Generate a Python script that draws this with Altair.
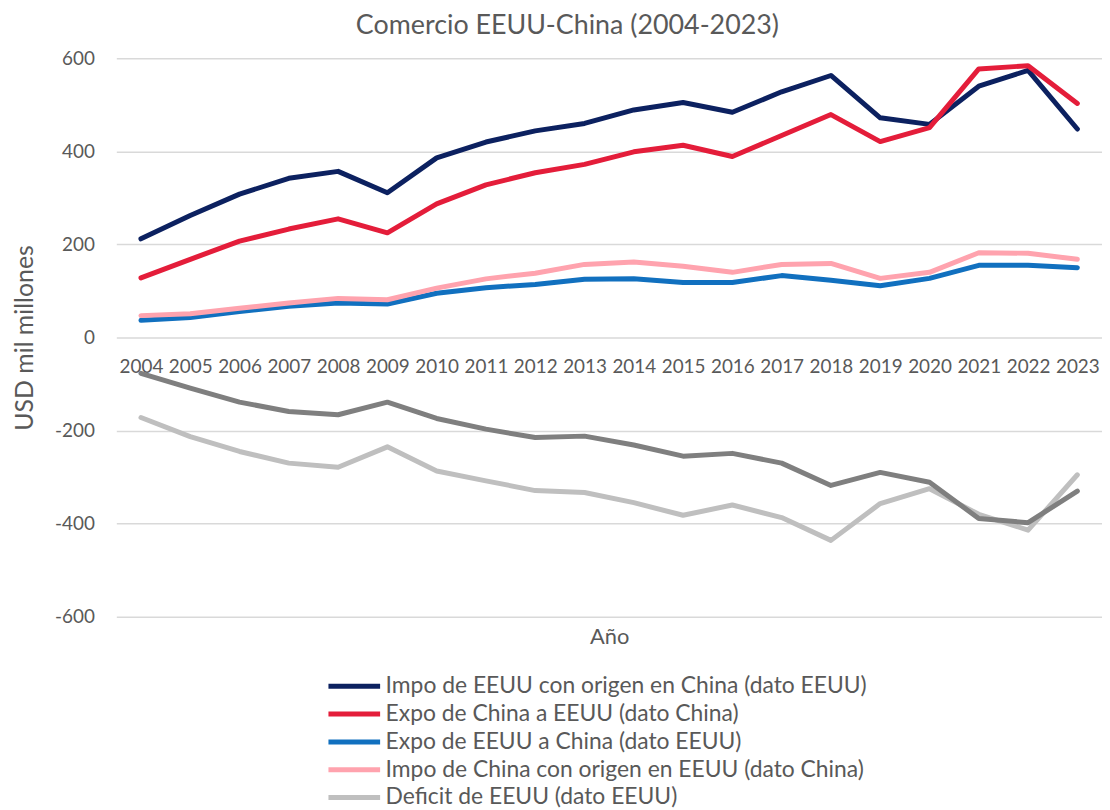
import altair as alt
import pandas as pd

years = [str(y) for y in range(2004, 2024)]

impo_eeuu_dato_eeuu = [212, 262, 308, 342, 357, 311, 386, 420, 444, 460,
                       489, 505, 484, 528, 563, 472, 458, 540, 574, 448]
expo_china_dato_china = [128, 168, 207, 233, 255, 225, 287, 328, 354, 372,
                         399, 413, 389, 434, 479, 421, 451, 577, 584, 503]
expo_eeuu_dato_eeuu = [37, 43, 56, 67, 74, 72, 95, 107, 114, 125,
                       126, 118, 118, 133, 123, 111, 127, 155, 155, 150]
impo_china_dato_china = [47, 51, 63, 74, 84, 81, 106, 126, 138, 157,
                         162, 153, 140, 157, 159, 127, 140, 182, 181, 168]
deficit_dato_eeuu = [-172, -213, -245, -270, -279, -235, -287, -308, -329, -333,
                     -355, -382, -360, -387, -436, -357, -325, -380, -414, -295]
deficit_dato_china = [-77, -109, -139, -159, -166, -139, -174, -197, -215, -212,
                      -231, -255, -249, -270, -318, -290, -311, -389, -398, -330]

series_names = [
    "Impo de EEUU con origen en China (dato EEUU)",
    "Expo de China a EEUU (dato China)",
    "Expo de EEUU a China (dato EEUU)",
    "Impo de China con origen en EEUU (dato China)",
    "Deficit de EEUU (dato EEUU)",
    "Deficit de EEUU (dato China)",
]
series_values = [
    impo_eeuu_dato_eeuu,
    expo_china_dato_china,
    expo_eeuu_dato_eeuu,
    impo_china_dato_china,
    deficit_dato_eeuu,
    deficit_dato_china,
]
colors = ["#0c2160", "#e41d3a", "#1170bf", "#ffa3ae", "#bfbfbf", "#7f7f7f"]
y_ticks = [-600, -400, -200, 0, 200, 400, 600]

rows = []
for idx, (name, vals) in enumerate(zip(series_names, series_values)):
    for yr, v in zip(years, vals):
        rows.append({"Año": yr, "serie": name, "valor": v, "orden": idx})
df = pd.DataFrame(rows)

FONT = "Lato"
TXT = "#595959"

chart = alt.Chart(df).mark_line(
    strokeWidth=5, strokeCap="round", strokeJoin="round"
).encode(
    x=alt.X(
        "Año:O",
        scale=alt.Scale(type="point", padding=0.5),
        axis=alt.Axis(
            title="Año", offset=-281, domain=False, ticks=False, tickSize=0,
            labelAngle=0, labelPadding=20, labelBaseline="top",
            labelFontSize=19, labelColor=TXT, labelFont=FONT,
            titleFontSize=22, titleColor=TXT, titleFont=FONT, titleFontWeight="normal",
            titleY=301, titleBaseline="middle", grid=False,
        ),
    ),
    y=alt.Y(
        "valor:Q",
        scale=alt.Scale(domain=[-600, 600], nice=False, zero=False),
        axis=alt.Axis(
            title="USD mil millones", values=y_ticks, labelExpr="'' + datum.value",
            domain=False, ticks=False, tickSize=0, labelPadding=22,
            labelFontSize=19, labelColor=TXT, labelFont=FONT,
            titleFontSize=25, titleColor=TXT, titleFont=FONT, titleFontWeight="normal",
            titleX=-92, titleY=281, titleAngle=270, titleAlign="center",
            titleBaseline="middle",
            grid=True, gridColor="#d9d9d9", gridWidth=1.5,
        ),
    ),
    color=alt.Color(
        "serie:N",
        scale=alt.Scale(domain=series_names, range=colors),
        legend=alt.Legend(
            title=None, orient="none", legendX=211, legendY=621,
            values=series_names[:5],
            symbolType="stroke", symbolSize=2704, symbolStrokeWidth=5,
            labelFontSize=23, labelColor=TXT, labelFont=FONT, labelOffset=3,
            clipHeight=22, rowPadding=5, labelLimit=700,
        ),
    ),
    order=alt.Order("orden:Q"),
).properties(
    width=992,
    height=562,
    title=alt.TitleParams(
        "Comercio EEUU-China (2004-2023)", fontSize=27, font=FONT,
        fontWeight="normal", color=TXT, anchor="middle", dx=-42, offset=9,
    ),
    autosize=alt.AutoSizeParams(type="none"),
    padding={"left": 109, "top": 48, "right": 0, "bottom": 200},
).configure_view(stroke=None)

chart.save("out.html", embed_options={"renderer": "svg", "actions": False})
